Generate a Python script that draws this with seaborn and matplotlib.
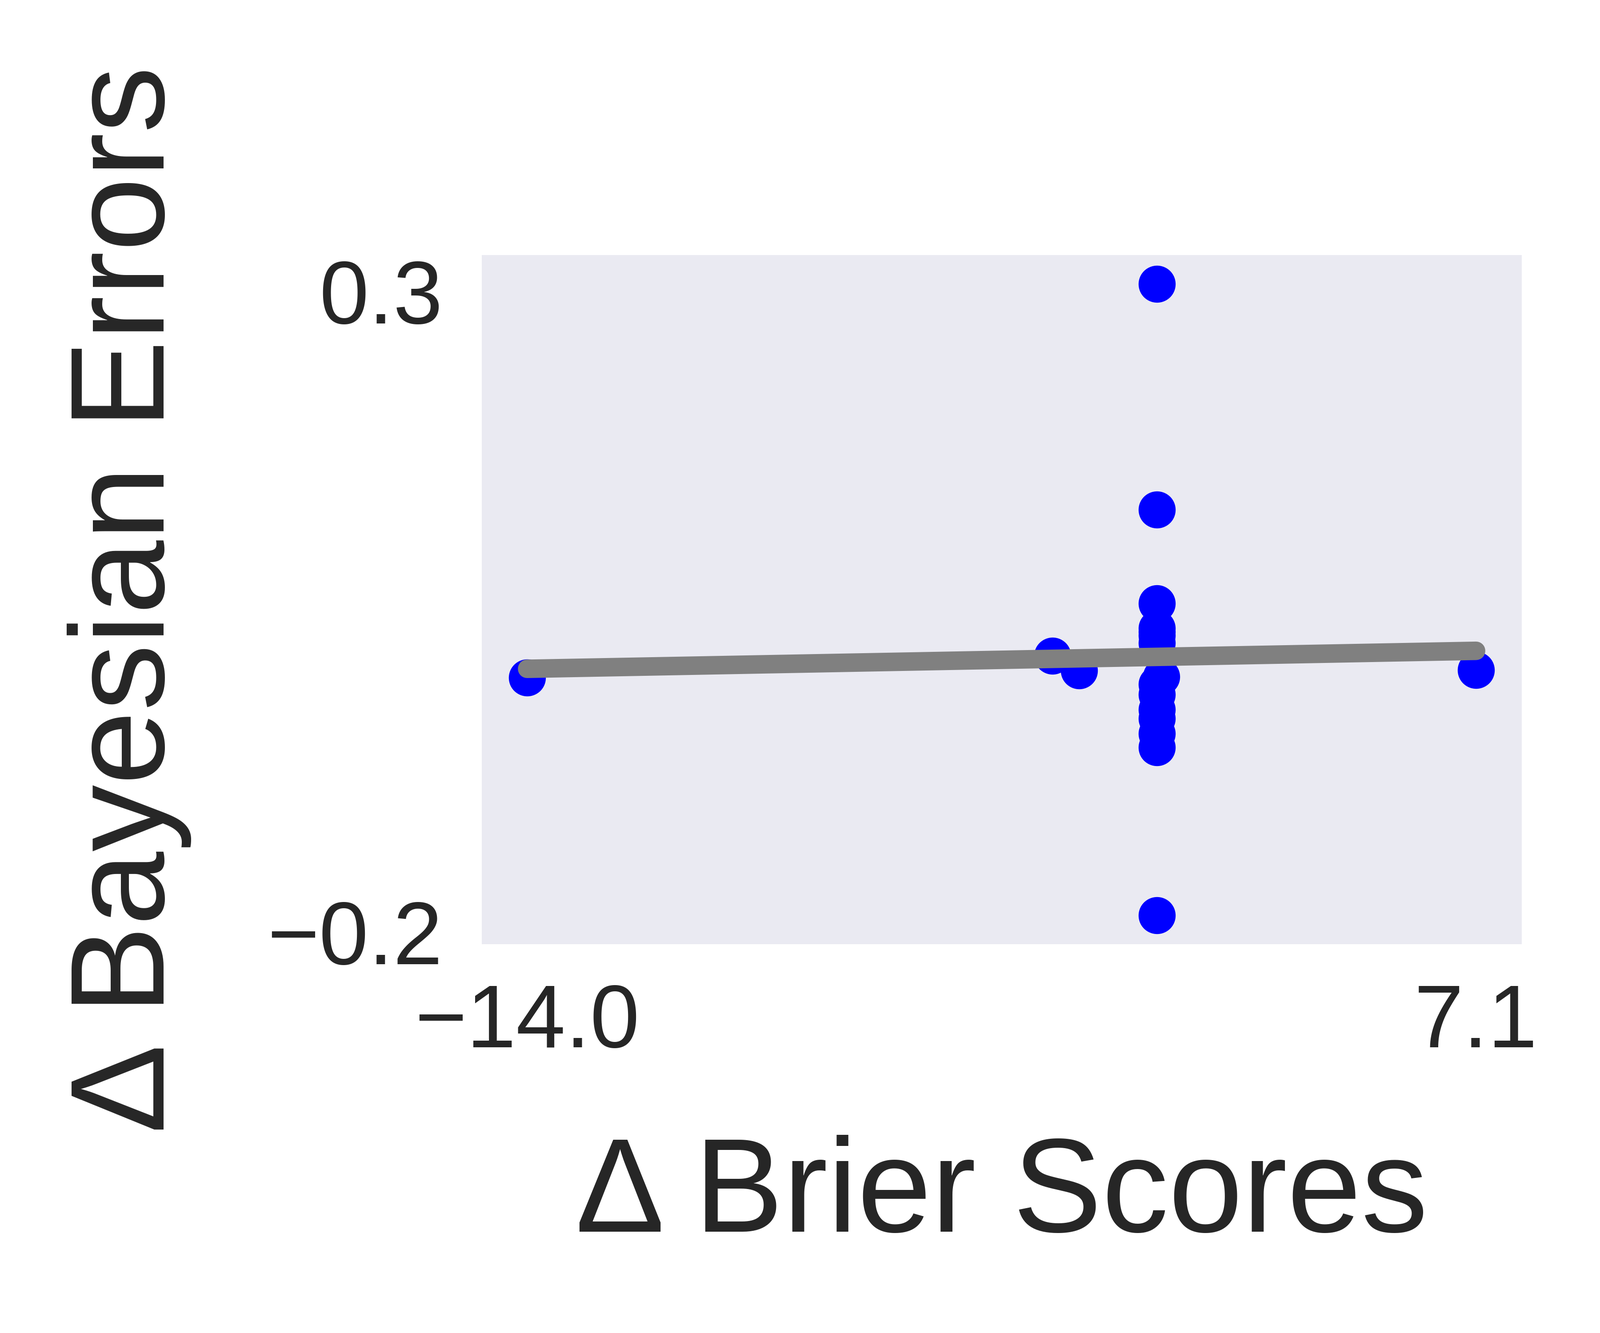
import matplotlib
matplotlib.use("Agg")
import matplotlib.pyplot as plt
import seaborn as sns
import numpy as np
import pandas as pd
from matplotlib.ticker import FuncFormatter

# Data
brier_delta = [-14.0, -2.32, -1.73,
               0.0, 0.0, 0.0, 0.0, 0.0, 0.0, 0.0,
               0.1,
               0.0, 0.0, 0.0, 0.0, 0.0, 0.0, 0.0,
               7.1]
bayes_delta = [-0.0016, 0.0154, 0.0042,
               0.3056, 0.1295, 0.0564, 0.0371, 0.0342, 0.0313, 0.0255,
               -0.0008,
               -0.0066, -0.0147, -0.0265, -0.0334, -0.0450, -0.0560, -0.1868,
               0.0043]
x_label = "\u0394 Brier Scores"
y_label = "\u0394 Bayesian Errors"

df = pd.DataFrame({"brier": brier_delta, "bayes": bayes_delta})

sns.set_style("darkgrid")
plt.rcParams["font.family"] = ["Liberation Sans", "DejaVu Sans"]
plt.rcParams["axes.grid"] = False

fig = plt.figure(figsize=(12, 10), dpi=300)
ax = fig.add_axes([0.301, 0.2917, 0.650, 0.517])

sns.regplot(data=df, x="brier", y="bayes", ax=ax, ci=None,
            scatter_kws={"s": 400, "color": "blue", "alpha": 1.0, "linewidths": 0},
            line_kws={"color": "gray", "lw": 10})

ax.grid(False)
for sp in ax.spines.values():
    sp.set_visible(False)

# ticks at the data extremes, rounded to one decimal
ax.set_xticks([round(min(brier_delta), 1), round(max(brier_delta), 1)])
ax.set_yticks([round(min(bayes_delta), 1), round(max(bayes_delta), 1)])
fmt = FuncFormatter(lambda v, p: f"{v:.1f}".replace("-", "\u2212"))
ax.xaxis.set_major_formatter(fmt)
ax.yaxis.set_major_formatter(fmt)
ax.margins(x=0.048, y=0.046)
ax.autoscale_view()

ax.tick_params(axis="both", which="both", length=0, labelsize=48, pad=21,
               colors="#262626")
ax.set_xlabel(x_label, fontsize=72, color="#262626", labelpad=37)
ax.set_ylabel(y_label, fontsize=72, color="#262626", labelpad=41)

fig.savefig("out.png", dpi=300)
